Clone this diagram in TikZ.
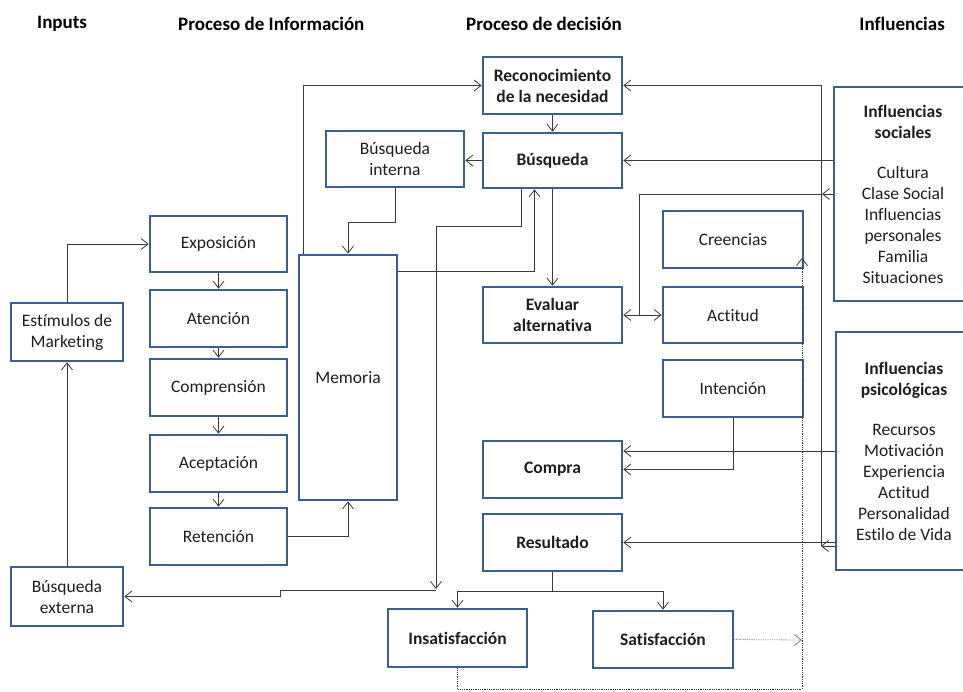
\documentclass[tikz,border=0pt]{standalone}
\usepackage{fontspec}
\setmainfont{Carlito}[Ligatures={NoCommon}]
\usetikzlibrary{arrows.meta,calc}
\definecolor{boxc}{HTML}{3A5F8E}
\definecolor{linec}{HTML}{3A3A3A}
\definecolor{txt}{HTML}{1E1E1E}
\tikzset{
  >={Straight Barb[length=7pt,width=11pt]},
  bx/.style={draw=boxc, line width=2.6pt, fill=white, inner sep=0pt, align=center,
    font=\fontsize{17.5}{21}\selectfont, text=txt},
  bbx/.style={bx, font=\fontsize{17.5}{21}\selectfont\bfseries},
  con/.style={draw=linec, line width=0.8pt, ->},
  dcon/.style={draw=linec, line width=0.8pt, <->},
  ln/.style={draw=linec, line width=0.8pt},
  dotl/.style={draw=linec, line width=0.8pt, densely dotted},
  hdr/.style={font=\fontsize{19}{22}\selectfont\bfseries, text=black, inner sep=0pt},
}
\begin{document}
\begin{tikzpicture}[x=1pt,y=-1pt]
\clip (0,0) rectangle (963,691);
\fill[white] (0,0) rectangle (963,691);
% headers
\node[hdr, anchor=west] (h1) at (37,24) {Inputs};
\node[hdr, anchor=west] (h2) at (178,24) {Proceso de Información};
\node[hdr, anchor=west] (h3) at (466,24) {Proceso de decisión};
\node[hdr, anchor=east] (h4) at (945,24) {Influencias};
% decision column
\node[bbx, minimum width=139, minimum height=57] (rec) at (552.5,85.5) {Reconocimiento\\de la necesidad};
\node[bbx, minimum width=139, minimum height=55] (bus) at (552.5,160.5) {Búsqueda};
\node[bbx, minimum width=139, minimum height=56] (eval) at (552.5,315) {Evaluar\\alternativa};
\node[bbx, minimum width=139, minimum height=57] (compra) at (552.5,469.5) {Compra};
\node[bbx, minimum width=139, minimum height=57] (res) at (552.5,542.5) {Resultado};
\node[bbx, minimum width=139, minimum height=58] (insat) at (457.5,638) {Insatisfacción};
\node[bbx, minimum width=140, minimum height=57] (sat) at (663,639.5) {Satisfacción};
% attitude column
\node[bx, minimum width=140, minimum height=57] (cre) at (733,239.5) {Creencias};
\node[bx, minimum width=140, minimum height=56] (act) at (733,315) {Actitud};
\node[bx, minimum width=140, minimum height=57] (inten) at (733,388.5) {Intención};
% information column
\node[bx, minimum width=138, minimum height=56] (bint) at (395,159) {Búsqueda\\interna};
\node[bx, minimum width=98, minimum height=245] (mem) at (348,377.5) {Memoria};
\node[bx, minimum width=137, minimum height=56] (expo) at (218.5,244) {Exposición};
\node[bx, minimum width=137, minimum height=57] (aten) at (218.5,318.5) {Atención};
\node[bx, minimum width=137, minimum height=57] (comp) at (218.5,387.5) {Comprensión};
\node[bx, minimum width=137, minimum height=57] (acep) at (218.5,463.5) {Aceptación};
\node[bx, minimum width=137, minimum height=57] (ret) at (218.5,536.5) {Retención};
% inputs
\node[bx, minimum width=112, minimum height=58] (est) at (67,332) {Estímulos de\\Marketing};
\node[bx, minimum width=112, minimum height=59] (bext) at (67,596.5) {Búsqueda\\externa};
% influences
\node[bx, minimum width=138, minimum height=214] (soc) at (903,194)
  {\textbf{Influencias}\\\textbf{sociales}\\[19pt]Cultura\\Clase Social\\Influencias\\personales\\Familia\\Situaciones};
\node[bx, minimum width=136, minimum height=238] (psy) at (904,451)
  {\textbf{Influencias}\\\textbf{psicológicas}\\[19pt]Recursos\\Motivación\\Experiencia\\Actitud\\Personalidad\\Estilo de Vida};
% coordinates
\coordinate (j1) at (821,546);
\coordinate (j2) at (822,194);
\coordinate (j3) at (639,315);
\coordinate (j4) at (436,589);
\coordinate (j5) at (436,590);
\coordinate (j6) at (280,590);
\coordinate (rs) at (552.5,591);
\coordinate (dt) at (802,640);
\coordinate (db) at (802,689);
\coordinate (ct) at (802,258);
% connectors
\draw[con] (rec) -- (bus);
\draw[con] (bus.west) -- (bus.west -| bint.east);
\draw[con] ($(mem.north west)+(6,0)$) |- (rec.west);
\draw[con] (psy.west |- j1) -- (j1);
\draw[con] (j1) |- (rec.east);
\draw[con] (soc.west |- bus.east) -- (bus.east);
\draw[con] (soc.west) -- (j2);
\draw[ln] (j2) -| (j3);
\draw[dcon] (eval.east) -- (act.west);
\draw[con] (bint.south) -- ++(0,34) -| (mem.north);
\draw[con] ($(mem.north east)+(0,18)$) -| ($(bus.south)+(-18,0)$);
\draw[con] ($(bus.south)+(-31,0)$) -- ++(0,37) -| (j4);
\draw[con] (j5) -- (j6) |- (bext.east);
\draw[con] (bus) -- (eval);
\draw[con] (est.north) |- (expo.west);
\draw[con] (bext) -- (est);
\draw[con] (expo) -- (aten);
\draw[con] (aten) -- (comp);
\draw[con] (comp) -- (acep);
\draw[con] (acep) -- (ret);
\draw[con] (ret.east) -| (mem.south);
\draw[con] (psy.west) -- (psy.west -| compra.east);
\draw[con] (inten.south) |- (compra.east);
\draw[con] (psy.west |- res.east) -- (res.east);
\draw[ln] (res.south) -- (rs);
\draw[con] (rs) -| (insat.north);
\draw[con] (rs) -| (sat.north);
\draw[con, draw=gray, densely dotted] (sat.east) -- (dt);
\draw[dotl] (insat.south) |- (db);
\draw[dotl, ->] (db) -- (ct);
\end{tikzpicture}
\end{document}
